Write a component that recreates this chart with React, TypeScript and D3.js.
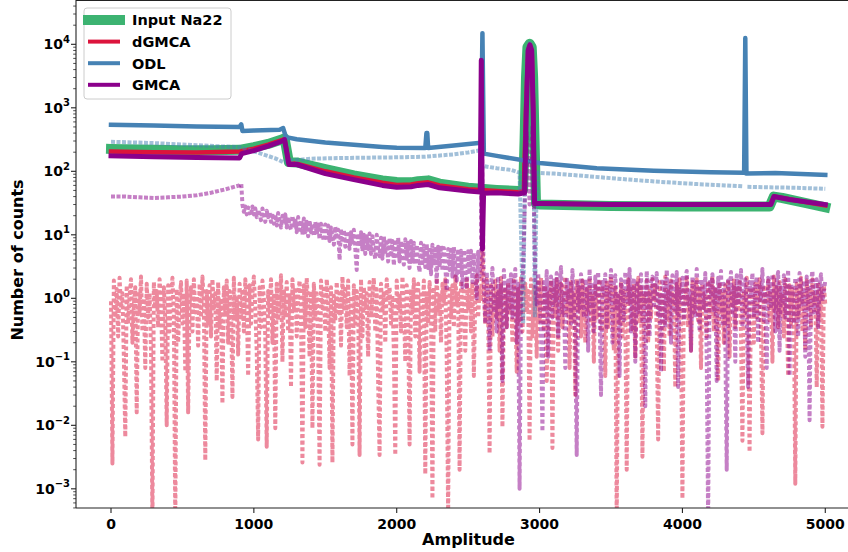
import React, { useEffect, useRef } from "react";
import * as d3 from "d3";

const W = 848;
const H = 552;

// Input Na22 spectrum
const inputAmp = [0, 100, 300, 500, 700, 900, 1000, 1100, 1200, 1215, 1245, 1300, 1500, 1700, 1900, 2000, 2100, 2150, 2220, 2300, 2500, 2700, 2850, 2885, 2895, 2905, 2915, 2930, 2945, 2955, 2965, 2975, 3000, 3500, 4000, 4500, 4610, 4640, 4700, 4850, 5000];
const inputCounts = [225, 222, 218, 215, 215, 218, 240, 270, 320, 330, 140, 138, 108, 86, 72, 68, 67, 70, 72, 64, 55, 51, 49, 52, 300, 3000, 9000, 10200, 9000, 3000, 300, 31, 30, 28.5, 28, 28, 28, 40, 38, 32, 27];

// dGMCA estimate
const dgmcaAmp = [0, 300, 600, 900, 1000, 1100, 1200, 1215, 1245, 1300, 1500, 1700, 1900, 2000, 2100, 2150, 2220, 2300, 2500, 2700, 2850, 2890, 2905, 2920, 2932, 2945, 2955, 2965, 3000, 3500, 4000, 4500, 4615, 4640, 4700, 4850, 5000];
const dgmcaCounts = [205, 200, 198, 205, 228, 262, 312, 322, 135, 132, 100, 80, 66, 61, 62, 65, 67, 60, 52, 49, 47, 50, 1000, 8000, 9800, 8000, 1000, 31, 31, 30, 30, 30, 30, 40, 38, 33, 29];

// ODL estimate
const odlAmp = [0, 300, 600, 900, 912, 920, 1000, 1180, 1205, 1225, 1300, 1500, 1700, 1900, 2000, 2200, 2208, 2214, 2220, 2400, 2590, 2600, 2610, 2700, 3000, 3400, 3800, 4200, 4432, 4440, 4448, 4650, 5000];
const odlCounts = [540, 525, 510, 500, 550, 432, 440, 450, 480, 345, 320, 285, 262, 242, 235, 232, 400, 400, 232, 255, 282, 15000, 190, 175, 135, 112, 102, 97, 95, 12600, 92, 94, 88];

// GMCA estimate
const gmcaAmp = [0, 300, 600, 900, 915, 1000, 1100, 1200, 1215, 1245, 1300, 1500, 1700, 1900, 2000, 2100, 2150, 2220, 2300, 2500, 2585, 2592, 2600, 2608, 2700, 2850, 2895, 2908, 2920, 2932, 2945, 2955, 2965, 3000, 3500, 4000, 4500, 4620, 4640, 4750, 5000];
const gmcaCounts = [175, 170, 165, 162, 190, 212, 250, 300, 315, 128, 128, 92, 74, 60, 56, 57, 60, 62, 55, 49, 47, 5600, 6, 45, 46, 44, 46, 1000, 8000, 9800, 8000, 1000, 31, 31, 30, 30, 30, 30, 40, 36, 30];

// ODL residual (no legend entry)
const odlResAmp = [0, 150, 300, 450, 600, 750, 900, 950, 1050, 1150, 1205, 1260, 1400, 1600, 1800, 2000, 2200, 2400, 2500, 2585, 2600, 2615, 2700, 2800, 2860, 2885, 2900, 2915, 2930, 2945, 2955, 2967, 2980, 3100, 3300, 3500, 3700, 3900, 4100, 4300, 4425, 4440, 4455, 4600, 4800, 5000];
const odlResCounts = [292, 285, 278, 268, 258, 248, 240, 222, 190, 160, 140, 148, 158, 162, 164, 166, 170, 185, 198, 215, NaN, 120, 112, 105, 95, 0.4, 300, 8000, 10500, 8000, 1500, 0.5, 95, 92, 85, 78, 72, 67, 63, 60, 58, NaN, 57, 56, 55, 53];

// dGMCA residual, one value every 10 amplitude units from 0 to 5000
const dgmcaResStart = 0;
const dgmcaResCounts = [
  .9, .0025, 1.9, .5, 1.4, .25, 2.1, .7, 1.2, .12,
  .0066, 1.6, .4, 1.1, 2, .2, .8, 1.5, .016, 1.3,
  .6, 2.2, .3, 1, .08, 1.7, .5, 1.2, .15, .0003,
  1.8, .7, 1.3, .35, 2, .9, .1, 1.5, .45, .01,
  1.6, .3, 1.1, 2.1, .6, .0003, 1.4, .2, .9, 1.8,
  .4, 1.2, .07, 1.9, .016, .8, 1.5, .3, 2, .6,
  1.1, .18, 1.7, .5, 2.2, .9, .0028, 1.3, .4, 1.6,
  .25, 2, .7, 1.2, .05, 1.8, .35, 1, .022, 1.5,
  .6, 1.9, .2, 1.3, .8, .028, 2.1, .45, 1.1, .13,
  1.7, .5, 1.4, .3, 2, .9, .06, 1.6, .4, 1.2,
  2.2, .7, .15, .006, 1.5, .35, 1.9, 1, .25, .0046,
  1.3, .6, 2, .2, 1.1, .009, 1.7, .45, .9, 2.3,
  .1, 1.4, .5, 1.8, .3, 1.2, .04, 2, .7, 1.5,
  .25, 1.1, 1.9, .6, .0026, 1.6, .35, 2.1, .8, .12,
  1.3, .009, 1.7, .5, 1.2, .2, .0024, 1.9, .7, 1.4,
  .3, 2, .9, .08, 1.5, .0026, 1.1, .45, 1.8, .6,
  1.2, .18, 2.2, .7, 1.4, .35, 1.9, .06, 1.1, .005,
  1.6, .4, 1.3, .9, .0034, 2, .25, 1.5, .7, 1.2,
  .12, 1.8, .5, 1.1, 2.1, .3, 1.4, .05, .0034, 1.7,
  .6, 1.3, .2, 2, .9, 1.5, .4, 1.1, .15, .0034,
  1.9, .7, 1.2, .3, 2.2, .8, .1, 1.6, .45, .005,
  1.4, .6, 2, .25, 1.1, 1.7, .07, 1.3, .5, 1.9,
  .0017, 1.2, .4, 1.8, .8, .0007, 1.5, .3, 2.1, .6,
  1.1, .2, 1.7, .9, 2, .12, .0004, 1.4, .5, 1.6,
  .35, 2.2, .8, 1.2, .002, 1.9, .45, 1.3, .15, 2,
  .7, 1.5, .3, 1.8, .06, 1.1, 2.3, .5, 1.4, .9,
  8, 1.2, .4, 2, .7, .0036, 1.6, .25, 1.1, 1.9,
  .5, 1.3, .15, 2.1, .0094, .8, 1.5, .35, 1.8, .6,
  1.2, .2, 1.9, .9, .07, 1.4, .45, 2.2, .3, 1.1,
  1.7, .6, 1.3, .0057, 2, .25, 1.5, .8, .12, 1.8,
  .4, 2.1, 1, .3, 1.6, .05, 1.2, .7, 1.9, .0044,
  1.4, .5, 2, .15, 1.1, 1.7, .35, .9, 2.2, .6,
  1.3, .08, 1.8, .45, 1.2, .03, 2, .7, 1.5, .25,
  1.9, .9, .2, 1.4, .6, 2.1, .4, 1.1, .1, 1.7,
  .5, 1.3, 2, .3, 1.6, .8, .06, 1.9, .35, 1.2,
  2.2, .7, .15, 1.5, .0003, 1.1, .45, 1.8, .25, 1.3,
  .6, .002, 2, .9, 1.4, .3, 1.7, .12, 1.1, 2.1,
  .4, 1.5, .0032, 1.2, .8, 1.9, .2, 1.3, .5, 2,
  .9, 1.6, .35, .006, 1.8, .6, 1.1, .07, 2.2, .45,
  1.4, .25, 1.9, .8, 1.2, .04, 1.7, .5, 2, .3,
  .0007, 1.5, .9, 2.1, .35, 1.1, .15, 1.8, .6, 1.3,
  2, .45, 1.4, .08, 1.7, .7, 1.2, .25, 1.9, .5,
  1.1, 2.2, .3, 1.5, .9, .05, 1.8, .6, 1.3, .2,
  1.6, .4, 2, .12, 1.2, .8, 1.9, .35, 1.4, .7,
  1.8, .25, .0057, 1.3, .6, 2.1, .4, .0038, 1.5, .9,
  .2, 1.7, .5, 1.2, 2, .3, .0075, 1.6, .8, 1.1,
  1.9, .45, 1.3, .1, 2.2, .7, 1.5, .35, 1.8, .6,
  1.2, .25, 2, .9, .06, 1.6, .4, 1.4, .8, .0012,
  1.7, .5, 1.1, 2.1, .3, 1.3, .15, 1.9, .7, 1.5,
  .35, 2, .9, 1.2, .04, 1.8, .5, 1.4, .0095, 1.6,
  .8,
];

// GMCA residual: smooth head, noisy middle, spike, noisy tail (middle and tail every 10 units)
const gmcaResHeadAmp = [0, 100, 200, 300, 400, 500, 600, 700, 800, 900, 912];
const gmcaResHeadCounts = [40, 40, 39, 38, 39, 40, 42, 46, 52, 60, 63];
const gmcaResMidStart = 920;
const gmcaResMidCounts = [
  30, 23, 28, 21, 27, 24, 20, 28, 21, 26,
  19, 25, 21, 17, 26, 20, 16, 24, 19, 23,
  16, 22, 15, 21, 14, 22, 17, 13, 20, 15,
  21, 13, 19, 14, 12, 20, 13, 18, 11, 19,
  12, 17, 10, 18, 11, 16, 9.5, 17, 11, 15,
  9.5, 16, 10, 14.5, 8.5, 15, 10, 8, 14.5, 9,
  14, 8, 13, 9, 7, 13.5, 8.5, 12, 4, 12.5,
  7.5, 12, 6.5, 11.5, 8, 6, 11, 7, 12, 6,
  2.8, 10.5, 6.5, 11, 5.5, 10, 5, 9.5, 6, 10.5,
  5, 9.5, 5.5, 4.2, 10, 6, 4.6, 9, 4.2, 9.5,
  5, 8.5, 3.8, 9, 4.5, 8, 3.3, 8.5, 4.2, 9,
  3.8, 8, 4.6, 3.4, 8.5, 4.2, 7.5, 3, 8, 3.8,
  7.5, 3.4, 7, 3.8, 2.6, 7.5, 3.6, 6.8, 3.1, 7.2,
  3, 6.5, 2.4, 7, 3.3, 6, 1.8, 6.5, 3.1, 6.8,
  2.7, 6.2, 3.2, 1.3, 6, 2.8, 5.8, 2.2, 6.4, 3,
  1.9, 6, 2.6, 5.6, 1.5, 5.8, 2.8, 1.4, 5.5, 2.4,
  5.6, 1.8, 5.2, 2.5, 1, 5.4, 2.2, 5,
];
const gmcaResSpikeAmp = [2594, 2600];
const gmcaResSpikeCounts = [5500, 40];
const gmcaResTailStart = 2610;
const gmcaResTailCounts = [
  1.8, .4, 2.6, .9, .15, 1.5, 3, .6, 1.2, .3,
  2.2, .8, 1.6, .05, 2.8, 1.1, .35, 1.9, .7, 2.4,
  .5, 1.4, 2.9, .2, 1.7, .001, 1.2, 1.5, 8, 60,
  400, 150, 30, 150, 500, 40, 2, .8, 2.5, 1.1,
  .3, .008, 1.8, .7, 2.7, .12, 1.4, 2.2, .5, 1.9,
  .9, 2.5, .25, 1.6, 3.1, .6, 1.3, .08, 2.1, 1,
  1.7, .4, 2.8, 1.1, .2, .0034, 1.9, .7, 2.4, 1.3,
  .5, 2, 1.4, .15, 2.9, .8, 1.6, .3, 2.2, 1,
  2.6, .6, .03, 1.8, 1.2, 2.4, .35, 1.5, .9, 2.8,
  .2, 1.7, 2.3, .7, 1.1, .06, 2, 1.4, .45, 2.6,
  1.2, .8, 2.9, .3, 1.6, 2.1, .1, 1.9, .6, 1.3,
  2.4, .4, 1.5, .02, 2.7, 1, .25, 1.8, 2.2, .7,
  1.4, 2.5, .5, 1.1, .07, 2, 1.6, .35, 2.8, .9,
  1.7, .2, 2.3, 1.2, .6, 2.6, .04, 1.5, 1, 2.1,
  .45, 1.9, 2.7, .8, 1.3, .15, 2.2, 1.6, .5, 2.9,
  1.1, .3, 2, 1.5, .7, 2.5, .12, .0003, 1.8, 1.2,
  2.4, .6, 1.4, .05, 2.1, 1, 2.7, .4, 1.7, .25,
  .002, 1.9, 1.2, 2.6, .55, 1.5, .1, 2.3, .8, 1.3,
  2.8, .35, 1.6, 2, .7, .04, 1.8, 1.1, 2.5, .5,
  1.4, 2.2, .2, 1.7, 1, 2.9, .45, 1.3, .08, 2.1,
  1.6, .7, 2.4, 1.2, .3, 1.9, 2.6, .15, 1.5, .9,
  2.3, .5, 1.1, 2.8, .06, 1.7, 1.3, .4, 2.1, 1,
  .25, 2.5, 1.5, .8, 1.9, .12, 2.2, 1.4, .012, 1.8,
  2.7, .6, 1.2, 2, .35, 1.6, 2.4, .9, 1.3, 1.9,
];

const xTicks = [0, 1000, 2000, 3000, 4000, 5000];
const yDecades = [-3, -2, -1, 0, 1, 2, 3, 4];

const legendItems = [
  { label: "Input Na22", color: "#3cb371", width: 10 },
  { label: "dGMCA", color: "#dc143c", width: 4 },
  { label: "ODL", color: "#4682b4", width: 4 },
  { label: "GMCA", color: "#8b008b", width: 4 },
];

const FONT = "'DejaVu Sans', sans-serif";

const zip = (a: number[], b: number[]) => a.map((v, i) => [v, b[i]] as [number, number]);
const regular = (start: number, vals: number[]) => vals.map((v, i) => [start + 10 * i, v] as [number, number]);

export default function App() {
  const ref = useRef<SVGSVGElement>(null);

  useEffect(() => {
    const svg = d3.select(ref.current);
    svg.selectAll("*").remove();

    const left = 76, right = 861, top = 1, bottom = 508;
    const x = d3.scaleLinear().domain([-245, 5250]).range([left, right]);
    const y = d3.scaleLog().domain([10 ** -3.302, 10 ** 4.682]).range([bottom, top]);

    svg.append("rect").attr("width", W).attr("height", H).attr("fill", "#fff");

    svg.append("defs").append("clipPath").attr("id", "plot-clip")
      .append("rect").attr("x", left).attr("y", top).attr("width", right - left).attr("height", bottom - top);

    const line = d3.line<[number, number]>()
      .defined(d => isFinite(d[1]) && d[1] > 0)
      .x(d => x(d[0]))
      .y(d => y(d[1]));

    const plot = svg.append("g").attr("clip-path", "url(#plot-clip)");

    const solid = (data: [number, number][], color: string, w: number) =>
      plot.append("path").datum(data).attr("d", line).attr("fill", "none")
        .attr("stroke", color).attr("stroke-width", w)
        .attr("stroke-linejoin", "round").attr("stroke-linecap", "square");
    const dotted = (data: [number, number][], color: string, dash = "4 2.6") =>
      plot.append("path").datum(data).attr("d", line).attr("fill", "none")
        .attr("stroke", color).attr("stroke-opacity", 0.5).attr("stroke-width", 4)
        .attr("stroke-dasharray", dash).attr("stroke-linejoin", "round");

    const gmcaResHead = zip(gmcaResHeadAmp, gmcaResHeadCounts);
    const gmcaResRest = [
      gmcaResHead[gmcaResHead.length - 1],
      ...regular(gmcaResMidStart, gmcaResMidCounts),
      ...zip(gmcaResSpikeAmp, gmcaResSpikeCounts),
      ...regular(gmcaResTailStart, gmcaResTailCounts),
    ];

    solid(zip(inputAmp, inputCounts), "#3cb371", 10);
    solid(zip(dgmcaAmp, dgmcaCounts), "#dc143c", 4.5);
    dotted(regular(dgmcaResStart, dgmcaResCounts), "#dc143c");
    solid(zip(odlAmp, odlCounts), "#4682b4", 4.5);
    // the residual curves are dense and jittery in the source, so their dots nearly touch
    dotted(zip(odlResAmp, odlResCounts), "#4682b4", "4 1.5");
    solid(zip(gmcaAmp, gmcaCounts), "#8b008b", 5);
    dotted(gmcaResHead, "#8b008b", "4 1.5");
    dotted(gmcaResRest, "#8b008b");

    // spines
    const axis = svg.append("g").attr("stroke", "#222").attr("stroke-width", 1.1);
    axis.append("line").attr("x1", left).attr("x2", left).attr("y1", 0).attr("y2", bottom);
    axis.append("line").attr("x1", left).attr("x2", W).attr("y1", bottom).attr("y2", bottom);
    axis.append("line").attr("x1", left).attr("x2", W).attr("y1", 0.5).attr("y2", 0.5);

    // x ticks
    const txt = svg.append("g").attr("font-family", FONT).attr("font-weight", "bold").attr("fill", "#000");
    xTicks.forEach(t => {
      axis.append("line").attr("x1", x(t)).attr("x2", x(t)).attr("y1", bottom).attr("y2", bottom + 5);
      txt.append("text").attr("x", x(t)).attr("y", bottom + 21).attr("text-anchor", "middle")
        .attr("font-size", 14).text(String(t));
    });

    // y ticks
    const [lo, hi] = y.domain();
    for (let d = -4; d <= 4; d++) {
      for (let k = 2; k <= 9; k++) {
        const v = k * 10 ** d;
        if (v < lo || v > hi) continue;
        axis.append("line").attr("x1", left - 2.8).attr("x2", left).attr("y1", y(v)).attr("y2", y(v))
          .attr("stroke-width", 0.8);
      }
    }
    yDecades.forEach(e => {
      const yy = y(10 ** e);
      axis.append("line").attr("x1", left - 5).attr("x2", left).attr("y1", yy).attr("y2", yy);
      const t = txt.append("text").attr("x", 70).attr("y", yy + 5).attr("text-anchor", "end").attr("font-size", 14);
      t.append("tspan").text("10");
      t.append("tspan").attr("dy", -6.5).attr("font-size", 10).text(e < 0 ? "\u2212" + -e : String(e));
    });

    txt.append("text").attr("x", (left + right) / 2).attr("y", 545).attr("text-anchor", "middle")
      .attr("font-size", 16).text("Amplitude");
    txt.append("text").attr("transform", "translate(23,260) rotate(-90)").attr("text-anchor", "middle")
      .attr("font-size", 16).text("Number of counts");

    // legend
    const lg = svg.append("g");
    lg.append("rect").attr("x", 84).attr("y", 8).attr("width", 147).attr("height", 91).attr("rx", 3)
      .attr("fill", "#fff").attr("fill-opacity", 0.8).attr("stroke", "#ccc");
    legendItems.forEach((it, i) => {
      const yy = 20 + i * 21.6;
      lg.append("line").attr("x1", 88).attr("x2", 120).attr("y1", yy).attr("y2", yy)
        .attr("stroke", it.color).attr("stroke-width", it.width)
        .attr("stroke-linecap", i === 0 ? "square" : "butt");
      lg.append("text").attr("x", 132).attr("y", yy + 5.3).attr("font-family", FONT).attr("font-weight", "bold")
        .attr("font-size", 14.5).text(it.label);
    });
  }, []);

  return <svg ref={ref} width={W} height={H} style={{ position: "absolute", left: 0, top: 0 }} />;
}
